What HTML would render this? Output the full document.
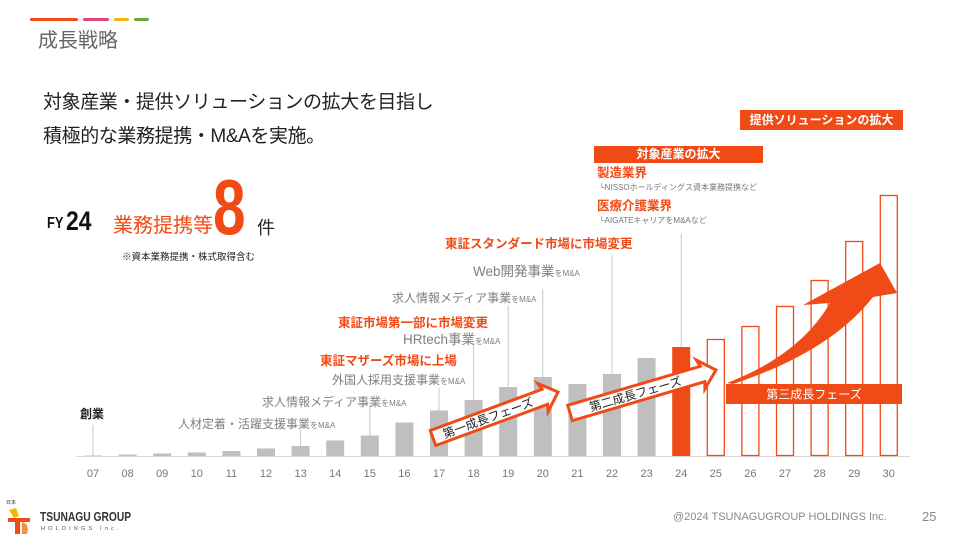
<!DOCTYPE html>
<html><head><meta charset="utf-8">
<style>
html,body{margin:0;padding:0;background:#fff;}
#slide{position:relative;width:962px;height:539px;overflow:hidden;font-family:"Liberation Sans","Noto Sans CJK JP",sans-serif;background:#fff;}
.t{position:absolute;white-space:nowrap;line-height:1;}
.g{color:#7f7f7f;font-size:12px;}
.r{color:#f04a16;font-weight:bold;font-size:12.5px;}
.s{font-size:8px;}
</style></head>
<body>
<div id="slide">
  <div style="position:absolute;left:30px;top:18px;width:48px;height:3px;background:#f04a16;border-radius:2px"></div>
  <div style="position:absolute;left:83px;top:18px;width:26px;height:3px;background:#e0457b;border-radius:2px"></div>
  <div style="position:absolute;left:114px;top:18px;width:15px;height:3px;background:#f5b800;border-radius:2px"></div>
  <div style="position:absolute;left:134px;top:18px;width:15px;height:3px;background:#6aaa3a;border-radius:2px"></div>
  <div class="t" style="left:38px;top:31px;font-size:20px;color:#666">成長戦略</div>
  <div class="t" style="left:43px;top:93px;font-size:19px;color:#222;letter-spacing:-0.4px">対象産業・提供ソリューションの拡大を目指し</div>
  <div class="t" style="left:43px;top:127px;font-size:19px;color:#222;letter-spacing:-0.4px">積極的な業務提携・M&amp;Aを実施。</div>

  <div class="t" style="left:47px;top:216px;font-size:16px;font-weight:bold;color:#111;transform:scaleX(0.8);transform-origin:left">FY</div>
  <div class="t" style="left:66px;top:208px;font-size:27px;font-weight:bold;color:#111;transform:scaleX(0.85);transform-origin:left">24</div>
  <div class="t" style="left:113px;top:216px;font-size:20px;color:#f04a16">業務提携等</div>
  <div class="t" style="left:213px;top:168px;font-size:78px;font-weight:bold;color:#f04a16;transform:scaleX(0.75);transform-origin:left">8</div>
  <div class="t" style="left:257px;top:219px;font-size:18px;color:#222">件</div>
  <div class="t" style="left:122px;top:253px;font-size:9.5px;color:#222">※資本業務提携・株式取得含む</div>

  <svg id="chart" width="962" height="539" style="position:absolute;left:0;top:0"></svg>

  <div class="t" style="left:80px;top:408px;font-size:12px;font-weight:bold;color:#222">創業</div>
  <div class="t g" style="left:178px;top:418px">人材定着・活躍支援事業<span class="s">をM&amp;A</span></div>
  <div class="t g" style="left:262px;top:396px">求人情報メディア事業<span class="s">をM&amp;A</span></div>
  <div class="t r" style="left:320px;top:355px">東証マザーズ市場に上場</div>
  <div class="t g" style="left:332px;top:374px">外国人採用支援事業<span class="s">をM&amp;A</span></div>
  <div class="t r" style="left:338px;top:317px">東証市場第一部に市場変更</div>
  <div class="t g" style="left:403px;top:333px;font-size:13.5px">HRtech事業<span class="s">をM&amp;A</span></div>
  <div class="t g" style="left:392px;top:292px">求人情報メディア事業<span class="s">をM&amp;A</span></div>
  <div class="t g" style="left:473px;top:265px;font-size:13.5px">Web開発事業<span class="s">をM&amp;A</span></div>
  <div class="t r" style="left:445px;top:238px">東証スタンダード市場に市場変更</div>

  <div class="t" style="left:594px;top:146px;width:169px;height:17px;background:#f04a16;color:#fff;font-size:12px;font-weight:bold;text-align:center;line-height:17px">対象産業の拡大</div>
  <div class="t r" style="left:597px;top:167px">製造業界</div>
  <div class="t" style="left:599px;top:184px;font-size:8px;color:#777">└NISSOホールディングス資本業務提携など</div>
  <div class="t r" style="left:597px;top:200px">医療介護業界</div>
  <div class="t" style="left:599px;top:217px;font-size:8px;color:#777">└AIGATEキャリアをM&amp;Aなど</div>
  <div class="t" style="left:740px;top:110px;width:163px;height:20px;background:#f04a16;color:#fff;font-size:12px;font-weight:bold;text-align:center;line-height:20px">提供ソリューションの拡大</div>

  <div class="t" style="left:6px;top:501px;font-size:5px;color:#333">日本</div>
  <svg style="position:absolute;left:6px;top:508px" width="32" height="26"><path d="M3 2 L10 0 L13 8 L8 10Z" fill="#f5b800"/><rect x="2" y="10" width="22" height="4" fill="#f04a16"/><rect x="9" y="12" width="5" height="14" fill="#f04a16"/><path d="M16 14 q8 2 5 12 h-5z" fill="#f7903a"/></svg>
  <div class="t" style="left:40px;top:511px;font-size:12.5px;font-weight:bold;color:#333;transform:scaleX(0.82);transform-origin:left">TSUNAGU GROUP</div>
  <div class="t" style="left:41px;top:527px;font-size:5.5px;color:#555;letter-spacing:3.2px">HOLDINGS Inc.</div>
  <div class="t" style="left:673px;top:512px;font-size:11px;color:#888">@2024 TSUNAGUGROUP HOLDINGS Inc.</div>
  <div class="t" style="left:922px;top:510px;font-size:13px;color:#888">25</div>
</div>
<script>
const years = ["07","08","09","10","11","12","13","14","15","16","17","18","19","20","21","22","23","24","25","26","27","28","29","30"];
const values = [0.5,1.5,2.5,3.5,5,7.5,10,15.5,20.5,33.5,45.5,56,69,79,72,82,98,109,117,130,150,176,215,261];
const kinds = ["a","a","a","a","a","a","a","a","a","a","a","a","a","a","a","a","a","c","f","f","f","f","f","f"];
const leaderYears = ["07","13","15","17","18","19","20","22","24"];
const leaderTops = [425,430,405,388,343,305,289,255,234];

const NS = "http://www.w3.org/2000/svg";
const svg = document.getElementById("chart");
const x0 = 93, step = 34.6, baseY = 456, bw = 18;
function xPos(i){ return x0 + i*step; }
function yPos(v){ return baseY - v; }
function mk(tag, attrs){ const e=document.createElementNS(NS,tag); for(const k in attrs) e.setAttribute(k,attrs[k]); svg.appendChild(e); return e; }

const axis = mk("line",{x1:76,y1:baseY+0.5,x2:910,y2:baseY+0.5,stroke:"#d9d9d9","stroke-width":1});



leaderYears.forEach((y,k)=>{
  const i = years.indexOf(y);
  const ln = mk("line",{x1:xPos(i),x2:xPos(i),y1:leaderTops[k],y2:yPos(values[i]),stroke:"#c8c8c8","stroke-width":1});
  
  
});

years.forEach((y,i)=>{
  const h = values[i];
  let r;
  if(kinds[i]==="f"){
    r = mk("rect",{x:xPos(i)-bw/2+0.5,y:yPos(h)+0.5,width:bw-1,height:h-1,fill:"none",stroke:"#f04a16","stroke-width":1.3});
  } else {
    r = mk("rect",{x:xPos(i)-bw/2,y:yPos(h),width:bw,height:h,fill:kinds[i]==="c"?"#f04a16":"#bfbfbf"});
  }
  
  
  const t = mk("text",{x:xPos(i),y:477,"text-anchor":"middle","font-size":11,fill:"#777","font-family":"Liberation Sans, sans-serif"});
  t.textContent = y;
  
  
});

function phaseArrow(x1,y1,x2,y2,label,name){
  const g = document.createElementNS(NS,"g");
  const ang = Math.atan2(y2-y1,x2-x1)*180/Math.PI;
  const len = Math.hypot(x2-x1,y2-y1);
  g.setAttribute("transform","translate("+x1+","+y1+") rotate("+ang+")");
  g.innerHTML = '<polygon points="0,-8 '+(len-14)+',-8 '+(len-16)+',-15 '+len+',0 '+(len-16)+',15 '+(len-14)+',8 0,8" fill="#fff" stroke="#f04a16" stroke-width="3"/>'+
    '<text x="'+(len/2-8)+'" y="4.5" text-anchor="middle" font-size="12" fill="#222" font-family="Liberation Sans, Noto Sans CJK JP, sans-serif">'+label+'</text>';
  
  
  svg.appendChild(g);
}
phaseArrow(433,438,558,392,"第一成長フェーズ","phase-1-arrow");
phaseArrow(570,413,716,370,"第二成長フェーズ","phase-2-arrow");

const big = mk("path",{d:"M727 383 Q800 355 830 303 L803 305 L880 263 L897 293 L873 297 Q830 352 733 384 Z",fill:"#f04a16"});


const band = mk("rect",{x:726,y:384,width:176,height:20,fill:"#f04a16"});


const bt = mk("text",{x:814,y:398.5,"text-anchor":"middle","font-size":12,fill:"#fff","font-family":"Liberation Sans, Noto Sans CJK JP, sans-serif"});
bt.textContent = "第三成長フェーズ";


</script>
</body></html>
